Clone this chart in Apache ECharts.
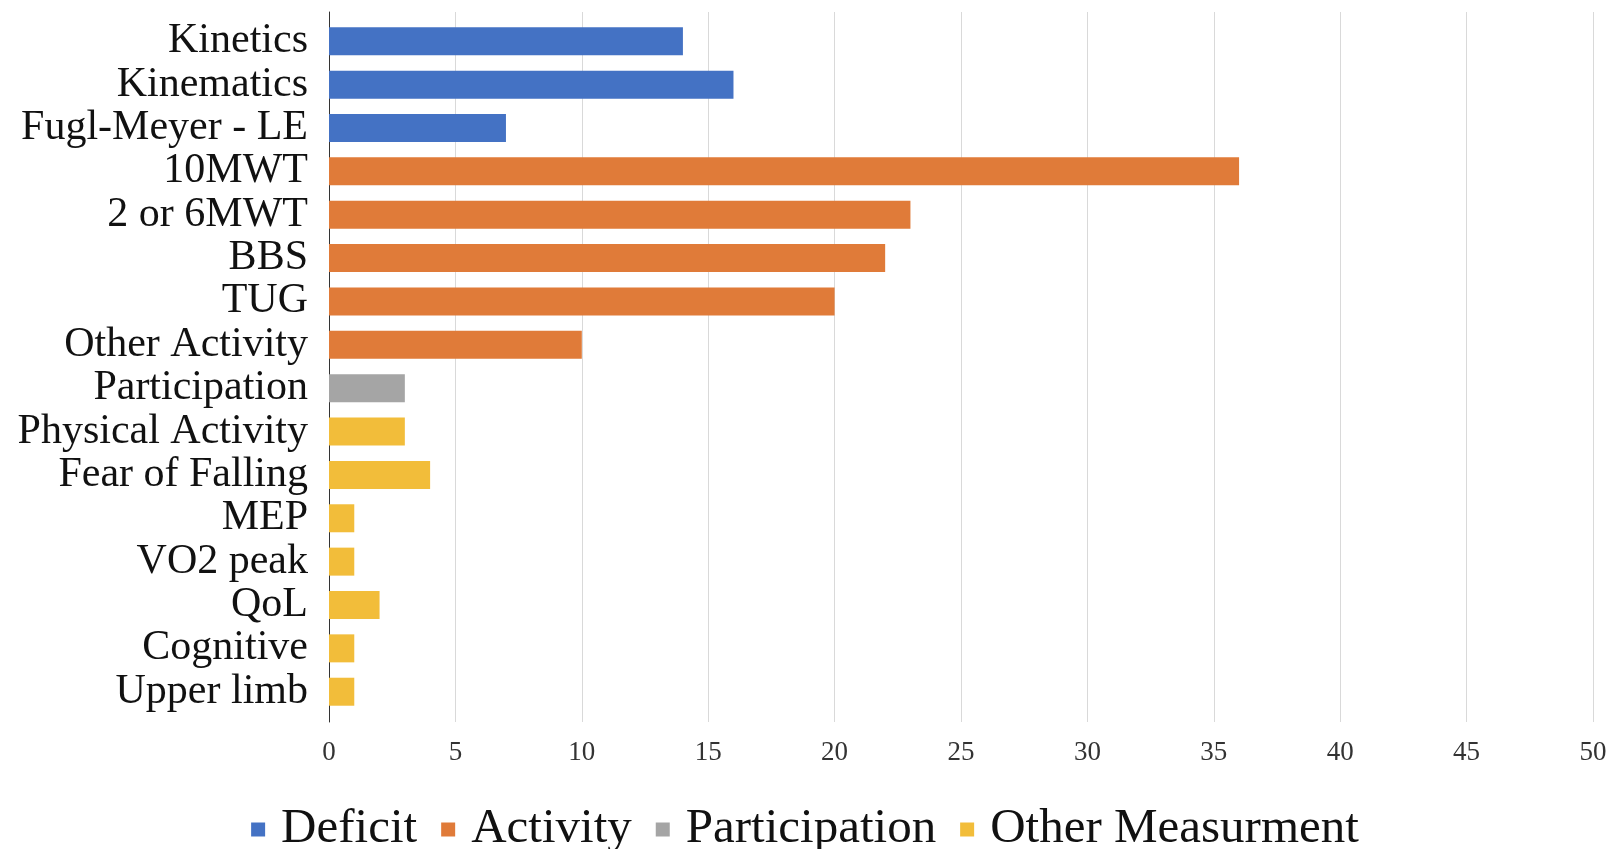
<!DOCTYPE html>
<html>
<head>
<meta charset="utf-8">
<title>Outcome measures by domain</title>
<script src="https://cdn.jsdelivr.net/npm/echarts@6/dist/echarts.min.js"></script>
<style>
  html, body { margin: 0; padding: 0; background: #ffffff; }
  #chart { width: 1610px; height: 849px; }
</style>
</head>
<body>
<div id="chart"></div>
<script>
// Outcome measures (top to bottom) and how many studies reported each
const categories = [
  'Kinetics', 'Kinematics', 'Fugl-Meyer - LE', '10MWT', '2 or 6MWT', 'BBS', 'TUG',
  'Other Activity', 'Participation', 'Physical Activity', 'Fear of Falling', 'MEP',
  'VO2 peak', 'QoL', 'Cognitive', 'Upper limb'
];
const counts = [14, 16, 7, 36, 23, 22, 20, 10, 3, 3, 4, 1, 1, 2, 1, 1];
// Domain each measure belongs to
const domains = [
  'Deficit', 'Deficit', 'Deficit', 'Activity', 'Activity', 'Activity', 'Activity',
  'Activity', 'Participation', 'Other Measurment', 'Other Measurment', 'Other Measurment',
  'Other Measurment', 'Other Measurment', 'Other Measurment', 'Other Measurment'
];
const domainNames = ['Deficit', 'Activity', 'Participation', 'Other Measurment'];
const domainColors = ['#4472C4', '#E07B39', '#A5A5A5', '#F2BD3A'];
const xTicks = { min: 0, max: 50, interval: 5 };

const FONT = '"Liberation Serif", "DejaVu Serif", serif';

// One series per domain, holding only that domain's measures
const series = domainNames.map((name, i) => ({
  name: name,
  type: 'bar',
  xAxisIndex: 1,
  yAxisIndex: 1,
  stack: 'all',
  barWidth: 28,
  itemStyle: { color: domainColors[i] },
  data: counts.map((v, k) => (domains[k] === name ? v : '-'))
}));

const chart = echarts.init(document.getElementById('chart'), null, { renderer: 'canvas' });
chart.setOption({
  backgroundColor: '#ffffff',
  animation: false,
  textStyle: { fontFamily: FONT },
  grid: [
    // frame: gridlines, value labels and the vertical axis line
    { left: 329, right: 17, top: 12, bottom: 127 },
    // bars and category labels
    { left: 329, right: 17, top: 19.6, bottom: 135.6 }
  ],
  xAxis: [
    {
      gridIndex: 0, type: 'value', min: xTicks.min, max: xTicks.max, interval: xTicks.interval,
      axisLine: { show: false }, axisTick: { show: false },
      splitLine: { show: true, lineStyle: { color: '#d9d9d9', width: 1 } },
      axisLabel: { fontFamily: FONT, fontSize: 27, color: '#333333', margin: 17 }
    },
    {
      gridIndex: 1, type: 'value', min: xTicks.min, max: xTicks.max, show: false,
      splitLine: { show: false }
    }
  ],
  yAxis: [
    {
      gridIndex: 0, type: 'value', min: 0, max: 1,
      axisLine: { show: true, lineStyle: { color: '#333333', width: 1 } },
      axisTick: { show: false }, axisLabel: { show: false }, splitLine: { show: false }
    },
    {
      gridIndex: 1, type: 'category', inverse: true, data: categories,
      axisLine: { show: false }, axisTick: { show: false },
      axisLabel: { interval: 0, fontFamily: FONT, fontSize: 42, color: '#111111', margin: 21 }
    }
  ],
  legend: {
    data: domainNames,
    left: 'center',
    top: 800,
    icon: 'rect',
    itemWidth: 14,
    itemHeight: 14,
    itemGap: 24,
    textStyle: { fontFamily: FONT, fontSize: 49, color: '#111111', padding: [0, 0, 0, 11] }
  },
  series: series
});
</script>
</body>
</html>
